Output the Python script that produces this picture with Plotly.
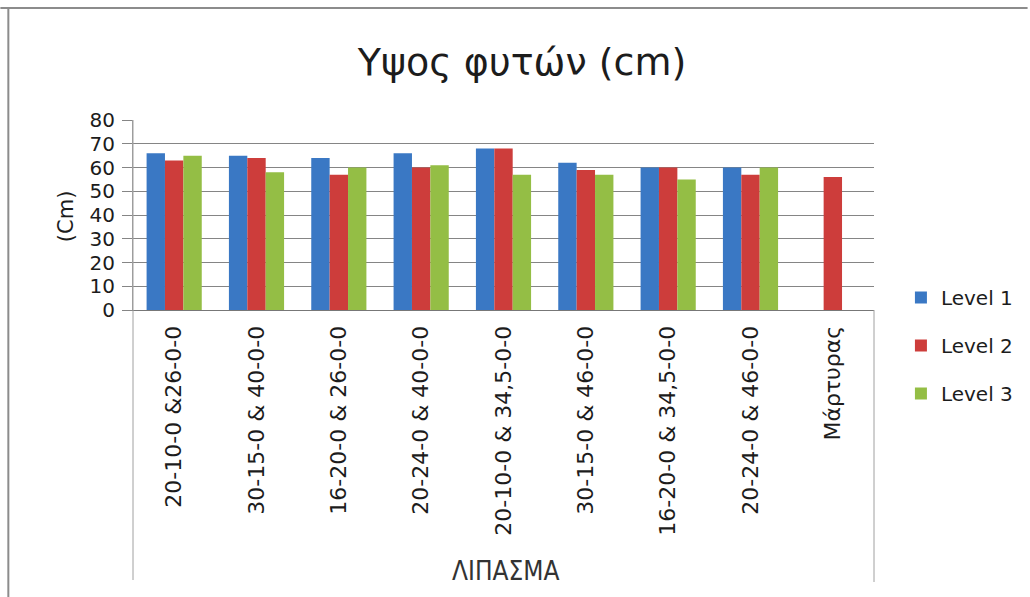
import plotly.graph_objects as go

# Fertiliser treatments (x categories)
categories = [
    "20-10-0 &26-0-0",
    "30-15-0 & 40-0-0",
    "16-20-0 & 26-0-0",
    "20-24-0 & 40-0-0",
    "20-10-0 & 34,5-0-0",
    "30-15-0 & 46-0-0",
    "16-20-0 & 34,5-0-0",
    "20-24-0 & 46-0-0",
    "Μάρτυρας",
]

# Plant height (cm) per application level
level_1 = [66, 65, 64, 66, 68, 62, 60, 60, None]
level_2 = [63, 64, 57, 60, 68, 59, 60, 57, 56]
level_3 = [65, 58, 60, 61, 57, 57, 55, 60, None]

series_names = ["Level 1", "Level 2", "Level 3"]
series_colors = ["#3A78C4", "#CD3D3B", "#94BE45"]

FONT = "DejaVu Sans"
TEXT = "#1c1c1c"

fig = go.Figure()
for name, values, color, grp in zip(series_names, [level_1, level_2, level_3], series_colors, ["a", "b", "c"]):
    fig.add_trace(go.Bar(
        x=categories, y=values, name=name, legendgroup=grp,
        marker=dict(color=color, line=dict(width=0)),
    ))

W, H = 1030, 597
L, R, T, B = 133, 154, 120, 287
plot_w, plot_h = W - L - R, H - T - B

def px_x(x):
    return (x - L) / plot_w

def px_y(y):
    return (H - B - y) / plot_h

fig.update_layout(
    width=W, height=H,
    margin=dict(l=L, r=R, t=T, b=B),
    paper_bgcolor="white", plot_bgcolor="white",
    barmode="group", bargap=0.33, bargroupgap=0,
    font=dict(family=FONT, color=TEXT),
    title=dict(
        text="Υψος φυτών (cm)", x=522 / W, xanchor="center",
        y=1 - 62 / H, yanchor="middle", yref="container",
        font=dict(size=38, family=FONT, color=TEXT),
    ),
    legend=dict(
        x=px_x(903), xanchor="left", y=px_y(278), yanchor="top",
        font=dict(size=20, family=FONT, color=TEXT),
        tracegroupgap=19, itemwidth=30, bgcolor="rgba(0,0,0,0)",
    ),
    showlegend=True,
)

fig.update_yaxes(
    range=[0, 80], dtick=10, tick0=0,
    showgrid=True, gridcolor="#858585", gridwidth=1,
    showline=True, linecolor="#9a9a9a", linewidth=1,
    ticks="outside", ticklen=10, tickcolor="#858585",
    ticklabelstandoff=3,
    tickfont=dict(size=20, family=FONT, color=TEXT),
    zeroline=False,
)
fig.update_xaxes(
    showline=True, linecolor="#777777", linewidth=1,
    ticks="", tickangle=-90, ticklabelstandoff=6,
    tickfont=dict(size=22, family=FONT, color=TEXT),
    showgrid=False,
)

# Frame lines of the chart area and around the category labels
shapes = [
    dict(type="line", xref="paper", yref="paper",
         x0=px_x(133), x1=px_x(133), y0=px_y(580), y1=px_y(120),
         line=dict(color="#a0a0a0", width=1)),
    dict(type="line", xref="paper", yref="paper",
         x0=px_x(876), x1=px_x(876), y0=px_y(582), y1=px_y(310),
         line=dict(color="#a0a0a0", width=1)),
    dict(type="line", xref="paper", yref="paper",
         x0=px_x(0), x1=px_x(W), y0=px_y(8), y1=px_y(8),
         line=dict(color="#8c8c8c", width=2)),
    dict(type="line", xref="paper", yref="paper",
         x0=px_x(8), x1=px_x(8), y0=px_y(597), y1=px_y(8),
         line=dict(color="#8c8c8c", width=2)),
]
fig.update_layout(shapes=shapes)

fig.add_annotation(
    text="(Cm)", textangle=-90, xref="paper", yref="paper",
    x=px_x(66), y=px_y(216), xanchor="center", yanchor="middle",
    showarrow=False, font=dict(size=21, family=FONT, color=TEXT),
)
fig.add_annotation(
    text="ΛΙΠΑΣΜΑ", xref="paper", yref="paper",
    x=px_x(507), y=px_y(571), xanchor="center", yanchor="middle",
    showarrow=False, font=dict(size=26, family="DejaVu Sans Condensed, Liberation Sans Narrow, Liberation Sans", color="#333333"),
)

fig.write_html("out.html")
